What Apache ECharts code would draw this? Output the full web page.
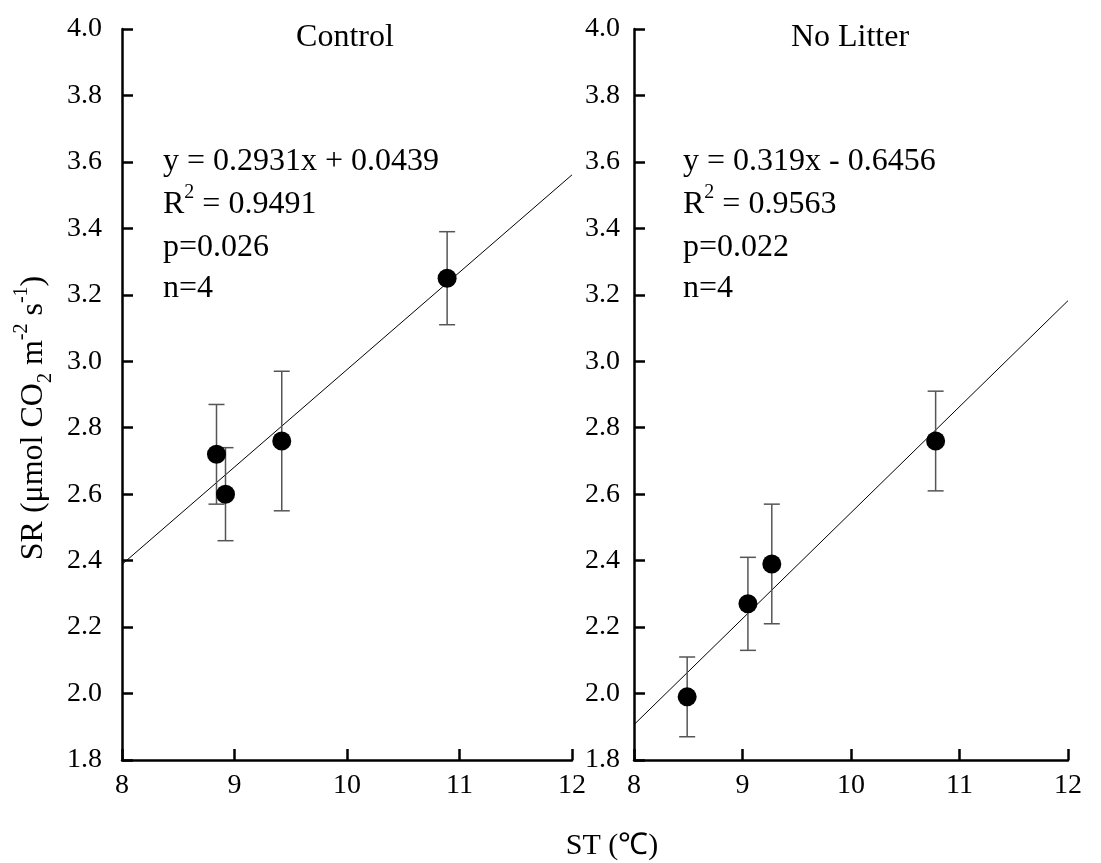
<!DOCTYPE html>
<html>
<head>
<meta charset="utf-8">
<script src="https://cdn.jsdelivr.net/npm/echarts@6/dist/echarts.min.js"></script>
<style>html,body{margin:0;padding:0;background:#fff;}#c{width:1101px;height:863px;}</style>
</head>
<body>
<div id="c"></div>
<script>
// ---- data ----
var controlST = [8.84, 8.92, 9.42, 10.89];
var controlSR = [2.72, 2.60, 2.76, 3.25];
var controlErr = [0.15, 0.14, 0.21, 0.14];
var noLitterST = [8.49, 9.05, 9.27, 10.78];
var noLitterSR = [1.99, 2.27, 2.39, 2.76];
var noLitterErr = [0.12, 0.14, 0.18, 0.15];
var fitSlope = [0.2931, 0.319];
var fitIntercept = [0.0439, -0.6456];
var xTicks = [8, 9, 10, 11, 12];
var yTicks = [1.8, 2.0, 2.2, 2.4, 2.6, 2.8, 3.0, 3.2, 3.4, 3.6, 3.8, 4.0];
var panelTitles = ['Control', 'No Litter'];
var statsText = [
  ['y = 0.2931x + 0.0439', '0.9491', 'p=0.026', 'n=4'],
  ['y = 0.319x - 0.6456', '0.9563', 'p=0.022', 'n=4']
];

var FONT = '"Liberation Serif", "Times New Roman", serif';
var chart = echarts.init(document.getElementById('c'));

function pts(xs, ys) { return xs.map(function (x, i) { return [x, ys[i]]; }); }
function errPts(xs, ys, es) { return xs.map(function (x, i) { return [x, ys[i], es[i]]; }); }
function fitLine(k) {
  var x0 = xTicks[0], x1 = xTicks[xTicks.length - 1];
  return [[x0, fitSlope[k] * x0 + fitIntercept[k]], [x1, fitSlope[k] * x1 + fitIntercept[k]]];
}

function errRender(params, api) {
  var x = api.value(0), y = api.value(1), e = api.value(2);
  var top = api.coord([x, y + e]);
  var bot = api.coord([x, y - e]);
  var cap = 8;
  var st = { stroke: '#555', lineWidth: 1.5 };
  return {
    type: 'group',
    children: [
      { type: 'line', shape: { x1: top[0], y1: top[1], x2: bot[0], y2: bot[1] }, style: st },
      { type: 'line', shape: { x1: top[0] - cap, y1: top[1], x2: top[0] + cap, y2: top[1] }, style: st },
      { type: 'line', shape: { x1: bot[0] - cap, y1: bot[1], x2: bot[0] + cap, y2: bot[1] }, style: st }
    ]
  };
}

function xAxisCfg(gi) {
  return {
    gridIndex: gi, type: 'value', min: xTicks[0], max: xTicks[xTicks.length - 1], interval: 1,
    axisLine: { show: true, onZero: false, lineStyle: { color: '#000', width: 2.5 } },
    axisTick: { show: true, inside: true, length: 11, lineStyle: { color: '#000', width: 2.5 } },
    axisLabel: { color: '#000', fontFamily: FONT, fontSize: 28, margin: 12 },
    splitLine: { show: false }
  };
}
function yAxisCfg(gi, margin) {
  return {
    gridIndex: gi, type: 'value', min: yTicks[0], max: yTicks[yTicks.length - 1], interval: 0.2,
    axisLine: { show: true, onZero: false, lineStyle: { color: '#000', width: 2.5 } },
    axisTick: { show: true, inside: true, length: 11, lineStyle: { color: '#000', width: 2.5 } },
    axisLabel: { color: '#000', fontFamily: FONT, fontSize: 28, margin: margin,
      formatter: function (v) { return v.toFixed(1); } },
    splitLine: { show: false }
  };
}

var graphics = [];
var titleX = [345, 850];
var statsX = [163, 683];
var lineY = [162, 205, 248, 289];
for (var k = 0; k < 2; k++) {
  graphics.push({ type: 'text', x: titleX[k], y: 38,
    style: { text: panelTitles[k], font: '32px ' + FONT, fill: '#000', align: 'center', verticalAlign: 'middle' } });
  graphics.push({ type: 'text', x: statsX[k], y: lineY[0],
    style: { text: statsText[k][0], font: '32px ' + FONT, fill: '#000', align: 'left', verticalAlign: 'middle' } });
  graphics.push({ type: 'text', x: statsX[k], y: lineY[1],
    style: { text: '{n|R}{s|2}{n| = ' + statsText[k][1] + '}', align: 'left', verticalAlign: 'middle',
      rich: {
        n: { fontFamily: FONT, fontSize: 32, lineHeight: 44, fill: '#000', color: '#000', verticalAlign: 'middle' },
        s: { fontFamily: FONT, fontSize: 20, lineHeight: 20, fill: '#000', color: '#000', verticalAlign: 'top' }
      } } });
  graphics.push({ type: 'text', x: statsX[k], y: lineY[2],
    style: { text: statsText[k][2], font: '32px ' + FONT, fill: '#000', align: 'left', verticalAlign: 'middle' } });
  graphics.push({ type: 'text', x: statsX[k], y: lineY[3],
    style: { text: statsText[k][3], font: '32px ' + FONT, fill: '#000', align: 'left', verticalAlign: 'middle' } });
}
graphics.push({ type: 'text', x: 34, y: 418, rotation: Math.PI / 2,
  style: { text: '{n|SR (μmol CO}{b|2}{n| m}{s|-2}{n| s}{s|-1}{n|)}', align: 'center', verticalAlign: 'middle',
    rich: {
      n: { fontFamily: FONT, fontSize: 32, lineHeight: 44, fill: '#000', color: '#000', verticalAlign: 'middle' },
      s: { fontFamily: FONT, fontSize: 20, lineHeight: 20, fill: '#000', color: '#000', verticalAlign: 'top' },
      b: { fontFamily: FONT, fontSize: 20, lineHeight: 20, fill: '#000', color: '#000', verticalAlign: 'bottom' }
    } } });
graphics.push({ type: 'text', x: 612, y: 846,
  style: { text: 'ST (℃)', font: '30px ' + FONT, fill: '#000', align: 'center', verticalAlign: 'middle' } });

var option = {
  backgroundColor: '#fff',
  animation: false,
  grid: [
    { left: 122, top: 29, width: 450, height: 731 },
    { left: 634, top: 29, width: 434, height: 731 }
  ],
  xAxis: [xAxisCfg(0), xAxisCfg(1)],
  yAxis: [yAxisCfg(0, 20), yAxisCfg(1, 14)],
  graphic: graphics,
  series: [
    { type: 'line', xAxisIndex: 0, yAxisIndex: 0, data: fitLine(0), symbol: 'none',
      lineStyle: { color: '#000', width: 1 }, z: 2 },
    { type: 'custom', xAxisIndex: 0, yAxisIndex: 0, data: errPts(controlST, controlSR, controlErr),
      renderItem: errRender, z: 3 },
    { type: 'scatter', xAxisIndex: 0, yAxisIndex: 0, data: pts(controlST, controlSR),
      symbol: 'circle', symbolSize: 19, itemStyle: { color: '#000', opacity: 1 }, z: 4 },
    { type: 'line', xAxisIndex: 1, yAxisIndex: 1, data: fitLine(1), symbol: 'none',
      lineStyle: { color: '#000', width: 1 }, z: 2 },
    { type: 'custom', xAxisIndex: 1, yAxisIndex: 1, data: errPts(noLitterST, noLitterSR, noLitterErr),
      renderItem: errRender, z: 3 },
    { type: 'scatter', xAxisIndex: 1, yAxisIndex: 1, data: pts(noLitterST, noLitterSR),
      symbol: 'circle', symbolSize: 19, itemStyle: { color: '#000', opacity: 1 }, z: 4 }
  ]
};
chart.setOption(option);
</script>
</body>
</html>
